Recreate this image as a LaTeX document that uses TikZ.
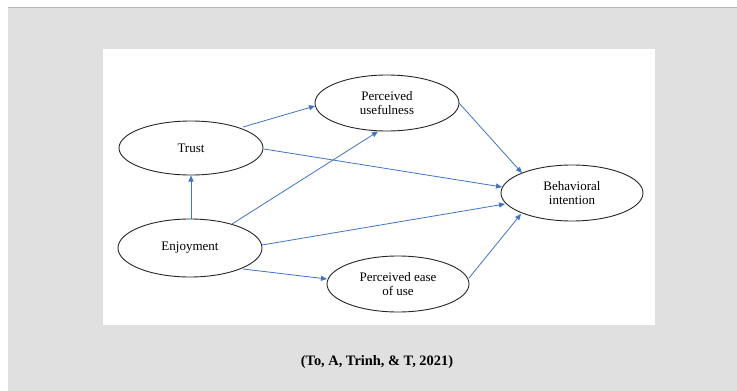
\documentclass[tikz,border=0pt]{standalone}
\usepackage{fontspec}
\setmainfont{Liberation Serif}
\usetikzlibrary{arrows.meta}
\definecolor{bgray}{RGB}{224,224,224}
\definecolor{lgray}{RGB}{185,185,185}
\definecolor{arrblue}{RGB}{62,117,195}
\begin{document}
\begin{tikzpicture}[x=1pt,y=-1pt,
  ell/.style={draw=black!85,line width=0.9pt},
  lbl/.style={font=\fontsize{13}{14.5}\selectfont,align=center,inner sep=0pt},
  link/.style={draw=arrblue,line width=0.8pt,-{Triangle[length=6pt,width=5pt]}}]
\useasboundingbox (0,0) rectangle (737,391);
\fill[white] (0,0) rectangle (737,391);
\fill[bgray] (8,7) rectangle (737,391);
\draw[lgray,line width=1pt] (8,7.5) -- (737,7.5);
\draw[black!12,line width=0.6pt] (8.5,8) -- (8.5,391);
\fill[white] (103,49) rectangle (655,325);
% ellipses
\draw[ell] (191,148) ellipse [x radius=72, y radius=27];
\node[lbl] (trust) at (191,148) {Trust};
\draw[ell] (387,103) ellipse [x radius=72, y radius=28];
\node[lbl] (pu) at (387,103) {Perceived\\usefulness};
\draw[ell] (572,193) ellipse [x radius=71, y radius=28];
\node[lbl] (bi) at (572,193) {Behavioral\\intention};
\draw[ell] (190,248) ellipse [x radius=72, y radius=29];
\node[lbl] (enj) at (190,248) {Enjoyment};
\draw[ell] (398,284) ellipse [x radius=71, y radius=28];
\node[lbl] (peu) at (398,284) {Perceived ease\\of use};
% connector end points on ellipse borders
\coordinate (enjT) at (191,219);
\coordinate (trustB) at (191,175.5);
\coordinate (trustTR) at (243,127);
\coordinate (puL) at (315,106);
\coordinate (enjTR) at (232,224);
\coordinate (puB) at (378,131.5);
\coordinate (trustR) at (264,149);
\coordinate (biL) at (502,187);
\coordinate (puR) at (459,103);
\coordinate (biTL) at (522,173);
\coordinate (enjR) at (262,245);
\coordinate (biL2) at (505,204);
\coordinate (enjBR) at (243,269);
\coordinate (peuL) at (327,279);
\coordinate (peuR) at (469,278);
\coordinate (biBL) at (521,214);
\draw[link] (enjT) -- (trustB);
\draw[link] (trustTR) -- (puL);
\draw[link] (enjTR) -- (puB);
\draw[link] (trustR) -- (biL);
\draw[link] (puR) -- (biTL);
\draw[link] (enjR) -- (biL2);
\draw[link] (enjBR) -- (peuL);
\draw[link] (peuR) -- (biBL);
\node[font=\fontsize{14.4}{16}\selectfont\bfseries,inner sep=0pt] (cite) at (377,362) {(To, A, Trinh, \& T, 2021)};
\end{tikzpicture}
\end{document}
